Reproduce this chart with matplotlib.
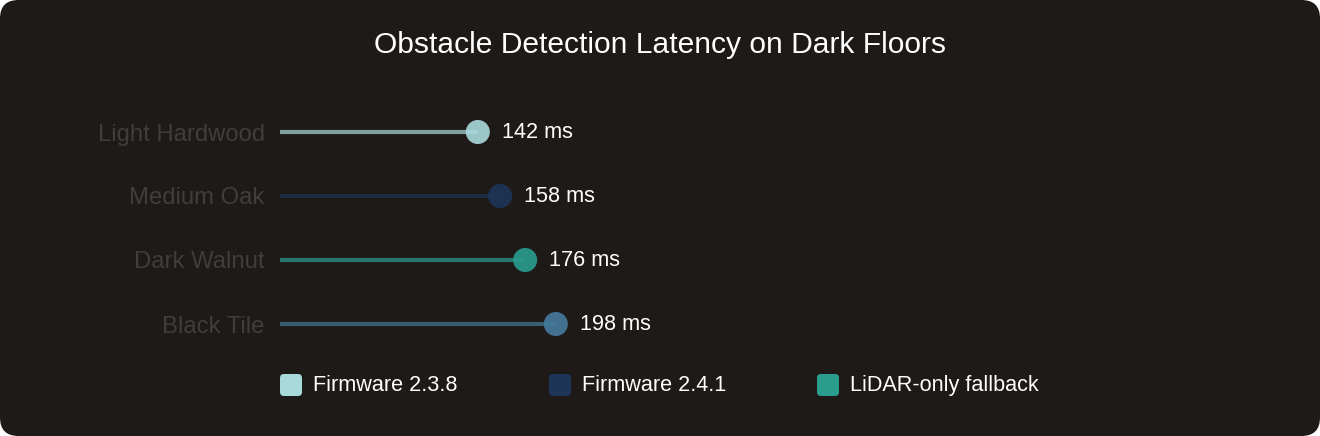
import matplotlib
matplotlib.use("Agg")
import matplotlib.pyplot as plt
from matplotlib.patches import FancyBboxPatch

plt.rcParams['font.family'] = ['Liberation Sans', 'DejaVu Sans']

# data
floors = ['Light Hardwood', 'Medium Oak', 'Dark Walnut', 'Black Tile']
latency_ms = [142, 158, 176, 198]
dot_colors = ['#a8dadc', '#1d3557', '#2a9d8f', '#457b9d']
legend_labels = ['Firmware 2.3.8', 'Firmware 2.4.1', 'LiDAR-only fallback']
legend_colors = ['#a8dadc', '#1d3557', '#2a9d8f']

BG = '#1e1a17'
W, H = 1320, 436

fig = plt.figure(figsize=(W / 100, H / 100), dpi=100)
fig.patch.set_facecolor('white')
# rounded dark card
card = FancyBboxPatch((0, 0), 1, 1, boxstyle='round,pad=0,rounding_size=0.014',
                      transform=fig.transFigure, facecolor=BG, edgecolor='none',
                      mutation_aspect=W / H, zorder=-10)
fig.patches.append(card)

# axes: x=0 at 280px, 1.393 px per ms
x0_px, x1_px = 280, 1040
ax = fig.add_axes([x0_px / W, (H - 356) / H, (x1_px - x0_px) / W, (356 - 100) / H])
ax.set_zorder(5)
ax.set_facecolor('none')
ax.set_xlim(0, (x1_px - x0_px) / 1.393)
ax.set_ylim(len(floors) - 0.5, -0.5)
for s in ax.spines.values():
    s.set_visible(False)
ax.set_xticks([])
ax.set_yticks(range(len(floors)))
ax.set_yticklabels(floors, color='#403d3a', fontsize=17.2)
ax.tick_params(axis='y', length=0, pad=11)

for i, (v, c) in enumerate(zip(latency_ms, dot_colors)):
    ax.plot([0, v], [i, i], color=c, lw=3, alpha=0.7, solid_capstyle='butt', zorder=2)
    ax.scatter([v], [i], s=300, color=c, alpha=0.9, edgecolors='none', zorder=3)
    ax.annotate(f'{v} ms', (v, i), xytext=(17.5, 0), textcoords='offset points',
                va='center', ha='left', color='white', fontsize=15.6)

fig.text(0.5, 1 - 45 / H, 'Obstacle Detection Latency on Dark Floors',
         ha='center', va='center', color='white', fontsize=21.6)

# legend
leg_x = [280, 549, 817]
for x, lab, c in zip(leg_x, legend_labels, legend_colors):
    sq = FancyBboxPatch((x / W, (H - 396) / H), 22 / W, 22 / H,
                        boxstyle='round,pad=0,rounding_size=0.003',
                        transform=fig.transFigure, facecolor=c, edgecolor='none',
                        mutation_aspect=W / H, zorder=2)
    fig.patches.append(sq)
    fig.text((x + 33) / W, 1 - 385 / H, lab, ha='left', va='center',
             color='white', fontsize=15.6)

fig.savefig('out.png', dpi=100, facecolor=fig.get_facecolor())
